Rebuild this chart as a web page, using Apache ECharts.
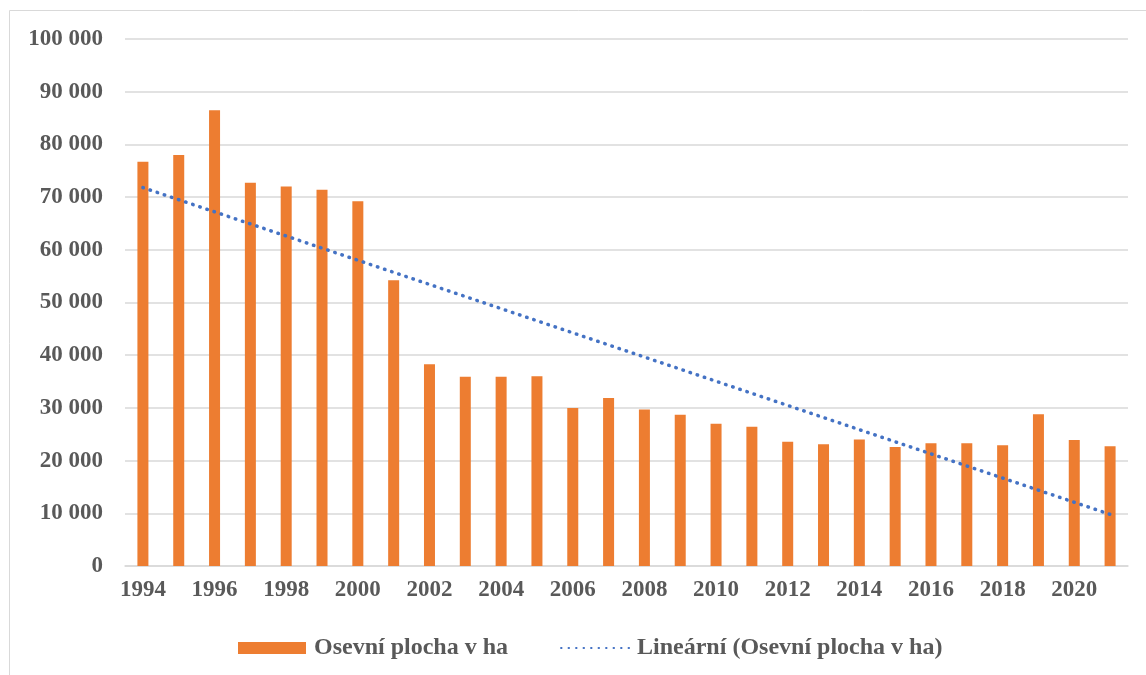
<!DOCTYPE html>
<html><head><meta charset="utf-8">
<script src="https://cdn.jsdelivr.net/npm/echarts@6/dist/echarts.min.js"></script>
<style>html,body{margin:0;padding:0;background:#fff}#c{width:1146px;height:675px}</style>
</head><body><div id="c"></div>
<script>
const years = ['1994','1995','1996','1997','1998','1999','2000','2001','2002','2003','2004','2005','2006','2007','2008','2009','2010','2011','2012','2013','2014','2015','2016','2017','2018','2019','2020','2021'];
const area = [76700,78000,86500,72700,72000,71400,69200,54200,38300,35900,35900,36000,30000,31900,29700,28700,27000,26400,23600,23100,24000,22600,23300,23300,22900,28800,23900,22700];
// trend line endpoints (1994 and 2021)
const trend = [71800,null,null,null,null,null,null,null,null,null,null,null,null,null,null,null,null,null,null,null,null,null,null,null,null,null,null,9800];
const yTicks = {min:0, max:100000, interval:10000};
const barName = 'Osevní plocha v ha';
const trendName = 'Lineární (Osevní plocha v ha)';

const font = {fontFamily:'"Liberation Serif", "Times New Roman", serif', fontWeight:'bold', color:'#595959', fontSize:22};
const chart = echarts.init(document.getElementById('c'));
chart.setOption({
  animation:false,
  graphic:[{type:'rect', shape:{x:9.5,y:10.5,width:1200,height:700}, style:{fill:'none', stroke:'#d9d9d9', lineWidth:1}, silent:true, z:-1}],
  grid:{left:125, right:18, top:39, bottom:109},
  legend:{left:233, top:631, itemWidth:68, itemHeight:12, itemGap:52,
    textStyle:Object.assign({}, font, {fontSize:24, padding:[0,0,0,3]}),
    data:[{name:barName, icon:'rect'}, {name:trendName, itemStyle:{opacity:0}}]},
  xAxis:{type:'category', data:years, boundaryGap:true,
    axisLine:{lineStyle:{color:'#d9d9d9', width:1.5}}, axisTick:{show:false},
    axisLabel:Object.assign({}, font, {interval:1, margin:13, fontSize:23})},
  yAxis:{type:'value', min:yTicks.min, max:yTicks.max, interval:yTicks.interval,
    axisLine:{show:false}, axisTick:{show:false},
    splitLine:{lineStyle:{color:'#d9d9d9', width:1.5}},
    axisLabel:Object.assign({}, font, {margin:22, fontSize:23, formatter:v=>String(v).replace(/\B(?=(\d{3})+(?!\d))/g,'\u00a0')})},
  series:[
    {name:barName, type:'bar', data:area, barWidth:11, itemStyle:{color:'#ED7D31'}},
    {name:trendName, type:'line', data:trend, connectNulls:true, symbol:'none', z:5,
      lineStyle:{color:'#4472C4', width:3.5, type:[0.5,7], cap:'round'}, itemStyle:{color:'#4472C4'}}
  ]
});
</script></body></html>
